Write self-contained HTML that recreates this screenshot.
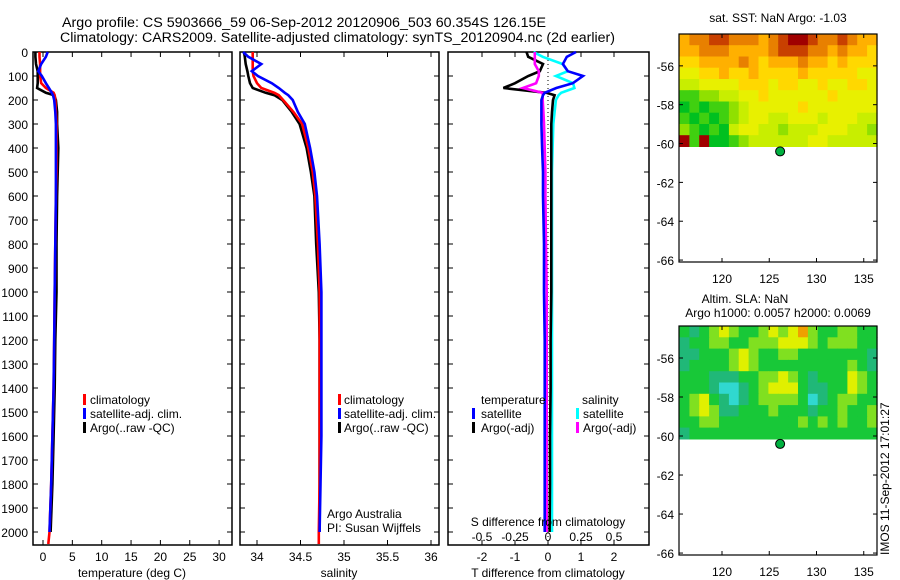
<!DOCTYPE html>
<html><head><meta charset="utf-8"><style>
html,body{margin:0;padding:0;background:#fff;}
svg{display:block;font-family:"Liberation Sans",sans-serif;}
</style></head><body>
<svg id="fig" width="900" height="580" viewBox="0 0 900 580">
<text x="62" y="27" font-size="13.5" textLength="484" lengthAdjust="spacingAndGlyphs">Argo profile: CS 5903666_59 06-Sep-2012 20120906_503 60.354S 126.15E</text>
<text x="60" y="42" font-size="13.5" textLength="555" lengthAdjust="spacingAndGlyphs">Climatology: CARS2009. Satellite-adjusted climatology: synTS_20120904.nc (2d earlier)</text>
<g id="g"></g>
</svg>
<script>
// ---------- data ----------
const depths=[0,20,50,80,100,130,150,170,180,200,250,300,400,500,600,800,1000,1200,1400,1600,1800,2000,2050];
const tClim=[-0.6,-0.6,-0.5,-0.5,-0.5,-0.3,0.5,1.8,2.0,2.1,2.2,2.3,2.3,2.3,2.2,2.1,2.0,1.9,1.8,1.6,1.4,1.1,0.9];
const tSat=[0.8,0.5,-0.3,-0.8,-0.2,0.5,1.0,1.5,1.7,1.9,2.1,2.2,2.2,2.2,2.2,2.1,2.0,1.9,1.8,1.6,1.4,1.1,null];
const tArgo=[-1.3,-1.3,-1.2,-0.9,-0.9,-0.9,-1.0,0.5,1.9,2.2,2.4,2.4,2.6,2.5,2.4,2.3,2.3,2.1,2.0,1.8,1.6,1.3,null];
const sClim=[33.95,33.95,33.95,33.95,33.96,34.0,34.05,34.2,34.25,34.3,34.42,34.52,34.59,34.64,34.67,34.70,34.72,34.72,34.72,34.72,34.72,34.71,34.71];
const sSat=[33.84,33.9,34.05,33.94,34.01,34.17,34.25,34.32,34.36,34.41,34.47,34.55,34.61,34.66,34.69,34.72,34.74,34.74,34.74,34.74,34.73,34.72,null];
const sArgo=[33.85,33.86,33.87,33.89,33.9,33.92,33.95,34.1,34.2,34.29,34.4,34.49,34.57,34.62,34.66,34.68,34.71,34.72,34.72,34.72,34.72,34.72,null];
const dT_sat=[0.85,0.57,0.45,0.6,1.06,0.75,0.25,-0.1,-0.15,-0.2,-0.2,-0.2,-0.18,-0.15,-0.15,-0.12,-0.12,-0.1,-0.1,-0.1,-0.1,-0.1,null];
const dT_argo=[-0.65,-0.6,-0.15,-0.25,-0.6,-1.0,-1.35,-0.05,0.2,0.15,0.12,0.1,0.1,0.1,0.1,0.1,0.1,0.08,0.08,0.06,0.06,0.05,null];
const dS_sat=[-0.11,-0.04,0.11,0.15,0.06,0.19,0.2,0.1,0.08,0.06,0.05,0.04,0.035,0.03,0.03,0.03,0.03,0.03,0.03,0.03,0.03,0.03,null];
const dS_argo=[-0.1,-0.1,-0.1,-0.07,-0.07,-0.09,-0.19,-0.04,-0.04,-0.04,-0.035,-0.03,-0.025,-0.02,-0.02,-0.015,-0.01,-0.01,-0.01,-0.01,-0.01,-0.01,null];
const depthTicks=[0,100,200,300,400,500,600,700,800,900,1000,1100,1200,1300,1400,1500,1600,1700,1800,1900,2000];
const tTicks=[0,5,10,15,20,25,30];
const sTicks=[34,34.5,35,35.5,36];
const sTickLabels=["34","34.5","35","35.5","36"];
const dTTicks=[-2,-1,0,1,2];
const dSTicks=[-0.5,-0.25,0,0.25,0.5];
const dSTickLabels=["-0.5","-0.25","0","0.25","0.5"];
const latTicks=[-56,-58,-60,-62,-64,-66];
const lonTicks=[120,125,130,135];
const argoLon=126.15, argoLat=-60.354;
const sstRows=[
[6,7,7,8,8,7,7,7,6,7,8,9,9,8,7,7,8,7,6,6],
[6,6,7,7,7,6,6,6,6,7,8,8,8,7,7,6,7,6,6,5],
[5,5,6,6,6,6,7,6,5,6,6,6,7,6,6,5,6,5,5,5],
[4,4,5,5,6,5,5,6,5,5,5,5,6,5,5,5,5,5,4,4],
[3,3,4,4,4,4,5,5,5,4,5,5,4,4,5,4,4,5,5,4],
[1,1,2,2,3,3,4,4,5,4,4,4,4,4,4,5,4,4,4,4],
[0,1,0,1,1,2,3,4,4,4,4,4,5,4,4,4,4,4,4,4],
[1,0,1,0,1,2,3,4,4,3,3,4,4,4,3,4,4,4,3,3],
[2,1,0,1,0,3,4,4,3,3,2,3,3,3,4,4,4,3,3,2],
[9,1,9,0,0,1,2,3,3,3,3,3,3,4,4,3,3,3,3,3]];
const slaRows=[
[2,1,2,3,4,3,2,2,3,4,3,4,5,3,2,2,3,3,2,2],
[1,2,2,3,3,2,2,3,3,3,4,4,4,3,2,3,3,3,2,2],
[1,1,2,2,2,3,4,3,2,2,3,3,2,2,2,2,2,2,2,1],
[1,2,2,2,2,3,4,3,2,2,2,2,2,2,2,2,2,3,2,1],
[2,2,2,1,1,1,2,2,3,3,4,3,2,1,2,2,2,4,3,2],
[2,2,2,1,0,0,1,2,3,4,4,4,2,1,1,2,2,4,3,2],
[2,3,4,2,1,0,1,2,3,3,3,3,2,0,1,2,3,3,2,2],
[2,3,4,3,1,1,2,2,2,3,2,2,2,1,2,2,3,2,2,3],
[2,2,3,3,2,2,2,2,2,2,2,2,3,2,3,2,3,2,2,3],
[1,2,2,2,2,2,2,2,2,2,2,2,2,2,2,2,2,2,2,2]];
// ---------- helpers ----------
const NS="http://www.w3.org/2000/svg";
const G=document.getElementById('g');
function mk(tag,at,parent){const e=document.createElementNS(NS,tag);for(const k in at)e.setAttribute(k,at[k]);(parent||G).appendChild(e);return e;}
function txt(x,y,s,size,anchor,name){const e=mk('text',{x:x,y:y,'font-size':size||12,'text-anchor':anchor||'start'});e.textContent=s;


return e;}
const pTop=52,pBot=545;
const FS=12;
const yD=d=>pTop+d*0.24;
function panel(x0,x1,name){const r=mk('rect',{x:x0,y:pTop,width:x1-x0,height:pBot-pTop,fill:'none',stroke:'#000','stroke-width':1.5});

}
function xTicks(vals,fx,labels,name,ly){vals.forEach((v,i)=>{const x=fx(v);
const t1=mk('line',{x1:x,y1:pTop,x2:x,y2:pTop+5,stroke:'#000'});


const t2=mk('line',{x1:x,y1:pBot,x2:x,y2:pBot-5,stroke:'#000'});


txt(x,ly||561,labels?labels[i]:String(v),FS,'middle',name+'-label');});}
function depthTicksDraw(x0,x1,labels){depthTicks.forEach(d=>{const y=yD(d);
const a=mk('line',{x1:x0,y1:y,x2:x0+5,y2:y,stroke:'#000'});


const b=mk('line',{x1:x1,y1:y,x2:x1-5,y2:y,stroke:'#000'});


if(labels)txt(28,y+5,String(d),FS,'end','depth-tick-label');});}
function profile(vals,fx,color,name){let pts=[];vals.forEach((v,i)=>{if(v!==null)pts.push(fx(v).toFixed(1)+','+yD(depths[i]).toFixed(1));});
const p=mk('polyline',{points:pts.join(' '),fill:'none',stroke:color,'stroke-width':2.6,'stroke-linejoin':'miter'});

}
function legendMark(x,y,color,name){const r=mk('rect',{x:x,y:y-10,width:3,height:11,fill:color});

}
// ---------- panel 1: temperature ----------
const xT=v=>43+v*5.87;
panel(33,232,'temperature-panel');depthTicksDraw(33,232,true);
xTicks(tTicks,xT,null,'temperature-axis');
profile(tArgo,xT,'#000','argo-temperature-line');
profile(tClim,xT,'#f00','climatology-temperature-line');
profile(tSat,xT,'#0000ff','satellite-temperature-line');
txt(132,577,'temperature (deg C)',FS,'middle','temperature-axis-title');
[['climatology','#f00'],['satellite-adj. clim.','#0000ff'],['Argo(..raw -QC)','#000']].forEach((e,i)=>{legendMark(83,404+i*14,e[1],'temp-legend-mark');txt(90,404+i*14,e[0],FS,'start','temp-legend-entry');});
// ---------- panel 2: salinity ----------
const xS=v=>257+(v-34)*87;
panel(240,439,'salinity-panel');depthTicksDraw(240,439,false);
xTicks(sTicks,xS,sTickLabels,'salinity-axis');
profile(sArgo,xS,'#000','argo-salinity-line');
profile(sClim,xS,'#f00','climatology-salinity-line');
profile(sSat,xS,'#0000ff','satellite-salinity-line');
txt(339,577,'salinity',FS,'middle','salinity-axis-title');
[['climatology','#f00'],['satellite-adj. clim.','#0000ff'],['Argo(..raw -QC)','#000']].forEach((e,i)=>{legendMark(338,404+i*14,e[1],'sal-legend-mark');txt(344,404+i*14,e[0],FS,'start','sal-legend-entry');});
txt(327,518,'Argo Australia',FS,'start','institution-label');
txt(327,532,'PI: Susan Wijffels',FS,'start','pi-label');
// ---------- panel 3: differences ----------
const xdT=v=>548+v*33;
const xdS=v=>548+v*132;
panel(448,649,'difference-panel');depthTicksDraw(448,649,false);
xTicks(dTTicks,xdT,null,'t-difference-axis');
const z=mk('line',{x1:xdT(0),y1:pTop,x2:xdT(0),y2:pBot,stroke:'#000','stroke-dasharray':'1,3'});


profile(dS_sat,xdS,'#00ffff','salinity-satellite-diff-line');
profile(dT_argo,xdT,'#000','temperature-argo-diff-line');
profile(dS_argo,xdS,'#ff00ff','salinity-argo-diff-line');
profile(dT_sat,xdT,'#0000ff','temperature-satellite-diff-line');
dSTicks.forEach((v,i)=>txt(xdS(v),541,dSTickLabels[i],FS,'middle','s-difference-tick-label'));
txt(548,526,'S difference from climatology',FS,'middle','s-difference-axis-title');
txt(548,577,'T difference from climatology',FS,'middle','t-difference-axis-title');
txt(481,404,'temperature',FS,'start','temp-legend-heading');
txt(582,404,'salinity',FS,'start','sal-legend-heading');
legendMark(472,418,'#0000ff','diff-legend-mark');txt(481,418,'satellite',FS,'start','diff-legend-entry');
legendMark(472,432,'#000','diff-legend-mark');txt(481,432,'Argo(-adj)',FS,'start','diff-legend-entry');
legendMark(576,418,'#00ffff','diff-legend-mark');txt(583,418,'satellite',FS,'start','diff-legend-entry');
legendMark(576,432,'#ff00ff','diff-legend-mark');txt(583,432,'Argo(-adj)',FS,'start','diff-legend-entry');
// ---------- maps ----------
const sstColors=['#00c020','#40d010','#90e000','#c8ee00','#e8f000','#ffd800','#ffb000','#e88000','#c84000','#a00000'];
const slaColors=['#30d8d0','#20b878','#18c838','#80e020','#e0f000','#f0a000'];
function map(y0,y1,rows,colors,name){
const x0=679,x1=877;const lon=v=>722+(v-120)*9.45;
const latTop=-54.36,latBot=-66.1;
const la=v=>y0+(latTop-v)*((y1-y0)/(latTop-latBot));
const nr=rows.length,nc=rows[0].length;
const lat0=latTop,lat1=-60.15,lon0=115.5,lon1=136.4;
rows.forEach((r,i)=>r.forEach((v,j)=>{
const cx0=lon(lon0+(lon1-lon0)*j/nc),cx1=lon(lon0+(lon1-lon0)*(j+1)/nc);
const cy0=la(lat0+(lat1-lat0)*i/nr),cy1=la(lat0+(lat1-lat0)*(i+1)/nr);
const c=mk('rect',{x:cx0.toFixed(1),y:cy0.toFixed(1),width:(cx1-cx0+0.6).toFixed(1),height:(cy1-cy0+0.6).toFixed(1),fill:colors[v]});

}));
const fr=mk('rect',{x:x0,y:y0,width:x1-x0,height:y1-y0,fill:'none',stroke:'#000','stroke-width':1.2});


latTicks.forEach(v=>{const y=la(v);
const a=mk('line',{x1:x0,y1:y,x2:x0+4,y2:y,stroke:'#000'});


const b=mk('line',{x1:x1,y1:y,x2:x1-4,y2:y,stroke:'#000'});


txt(674,y+5,String(v),FS,'end',name+'-lat-label');});
lonTicks.forEach(v=>{const x=lon(v);
const a=mk('line',{x1:x,y1:y0,x2:x,y2:y0+4,stroke:'#000'});


const b=mk('line',{x1:x,y1:y1,x2:x,y2:y1-4,stroke:'#000'});


txt(x,y1+21,String(v),FS,'middle',name+'-lon-label');});
const d=mk('circle',{cx:lon(argoLon),cy:la(argoLat)+1,r:4.5,fill:'#00b040',stroke:'#000','stroke-width':1});


}
map(34,262,sstRows,sstColors,'sst-map');
map(326,555,slaRows,slaColors,'sla-map');
txt(778,22,'sat. SST: NaN Argo: -1.03',FS,'middle','sst-map-title');
txt(745,303,'Altim. SLA: NaN',FS,'middle','sla-map-title');
txt(778,317,'Argo h1000: 0.0057 h2000: 0.0069',FS,'middle','sla-map-subtitle');
const ts=txt(0,0,'IMOS 11-Sep-2012 17:01:27',FS,'start','timestamp');
ts.setAttribute('transform','translate(889,555) rotate(-90)');
</script>
</body></html>
